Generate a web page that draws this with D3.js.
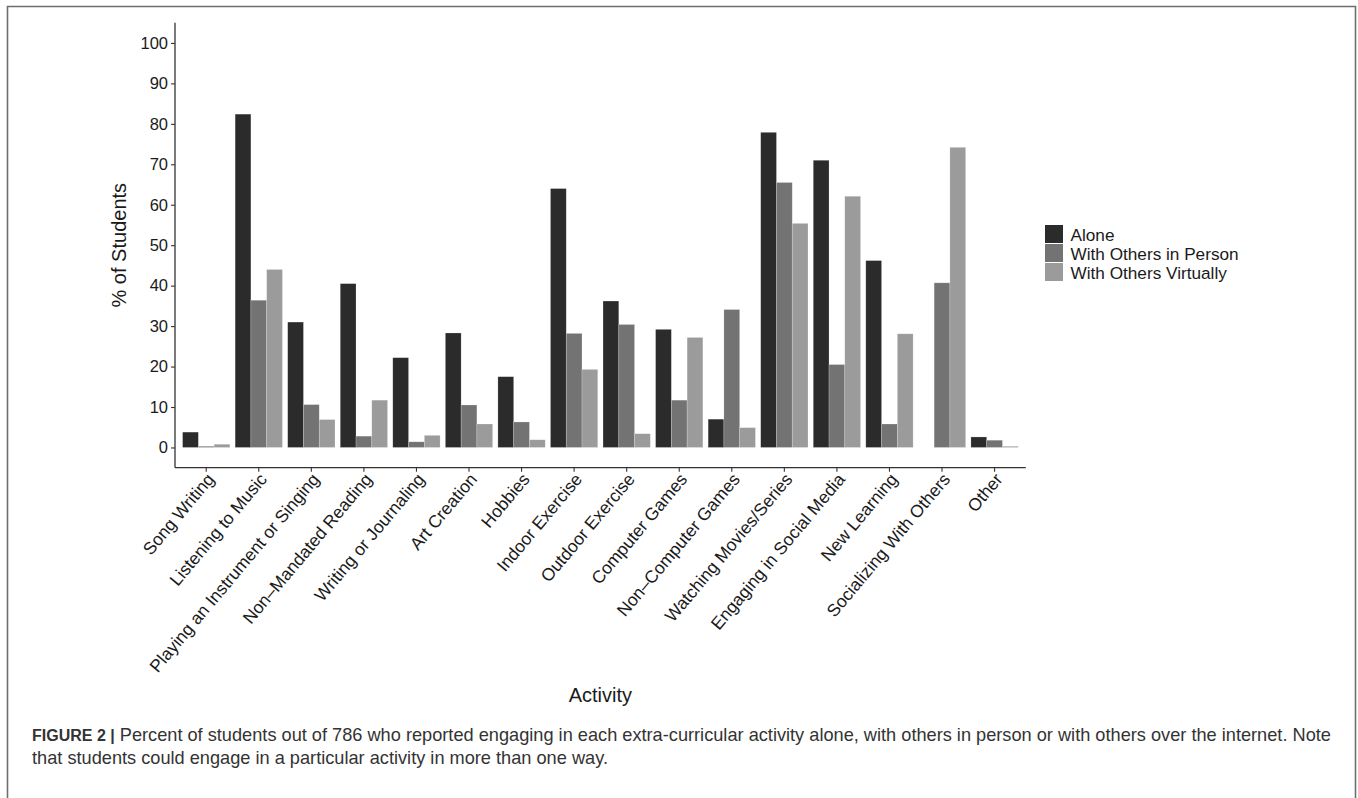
<!DOCTYPE html>
<html>
<head>
<meta charset="utf-8">
<script src="https://cdn.jsdelivr.net/npm/d3@7"></script>
<style>
  body { margin: 0; background: #fff; }
  svg { display: block; font-family: "Liberation Sans", Arial, Helvetica, sans-serif; }
</style>
</head>
<body>
<svg id="chart" width="1358" height="798"></svg>
<script>
// activities on the x axis
const activities = [
  'Song Writing', 'Listening to Music', 'Playing an Instrument or Singing',
  'Non\u2013Mandated Reading', 'Writing or Journaling', 'Art Creation', 'Hobbies',
  'Indoor Exercise', 'Outdoor Exercise', 'Computer Games', 'Non\u2013Computer Games',
  'Watching Movies/Series', 'Engaging in Social Media', 'New Learning',
  'Socializing With Others', 'Other'
];
const seriesNames = ['Alone', 'With Others in Person', 'With Others Virtually'];
const seriesColors = ['#2b2b2b', '#737373', '#9b9b9b'];

// % of students
const alone = [3.8, 82.4, 31.0, 40.5, 22.2, 28.3, 17.5, 64.0, 36.2, 29.2, 7.0, 77.9, 71.0, 46.2, null, 2.6];
const withOthersInPerson = [0.3, 36.4, 10.6, 2.8, 1.4, 10.5, 6.3, 28.2, 30.4, 11.7, 34.1, 65.5, 20.5, 5.8, 40.7, 1.8];
const withOthersVirtually = [0.8, 44.0, 6.9, 11.7, 3.0, 5.8, 1.9, 19.3, 3.4, 27.2, 4.9, 55.4, 62.1, 28.1, 74.2, 0.3];
const yTicks = [0, 10, 20, 30, 40, 50, 60, 70, 80, 90, 100];

const captionBold = 'FIGURE 2 |';
const captionLines = [
  'Percent of students out of 786 who reported engaging in each extra-curricular activity alone, with others in person or with others over the internet. Note',
  'that students could engage in a particular activity in more than one way.'
];

const svg = d3.select('#chart');
const textCol = '#1a1a1a';

// outer figure frame (no bottom edge, like the crop)
svg.append('path')
  .attr('d', 'M7.5,820V6.5H1355.5V820')
  .attr('fill', 'none')
  .attr('stroke', '#6e6e6e')
  .attr('stroke-width', 1.6);

const pLeft = 175, pRight = 1025.8, pTop = 22.7, pBottom = 467.7;

// ggplot-like discrete expansion: 0.6 of a step each side
const step = (pRight - pLeft) / (activities.length + 1.2);
const x = d3.scaleBand()
  .domain(activities)
  .range([pLeft + 0.6 * step - step / 2, pRight - 0.6 * step + step / 2])
  .paddingInner(0.1)
  .paddingOuter(0.05);
const xSub = d3.scaleBand().domain(seriesNames).range([0, x.bandwidth()]);
const y = d3.scaleLinear().domain([-5, 105]).range([pBottom, pTop]);

const rows = activities.map((a, i) => ({
  activity: a,
  values: [alone[i], withOthersInPerson[i], withOthersVirtually[i]]
}));

// bars
const groups = svg.append('g')
  .selectAll('g')
  .data(rows)
  .enter()
  .append('g')
  .attr('transform', d => `translate(${x(d.activity)},0)`);

groups.selectAll('rect')
  .data(d => d.values.map((v, j) => ({ v, j })).filter(e => e.v != null))
  .enter()
  .append('rect')
  .attr('x', e => xSub(seriesNames[e.j]))
  .attr('width', xSub.bandwidth())
  .attr('y', e => y(e.v))
  .attr('height', e => y(0) - y(e.v))
  .attr('fill', e => seriesColors[e.j])
  .style('stroke', '#ffffff')
  .style('stroke-opacity', 0.35)
  .style('stroke-width', 0.6);

// y axis
const yAxis = svg.append('g')
  .attr('transform', `translate(${pLeft},0)`)
  .call(d3.axisLeft(y).tickValues(yTicks).tickSize(4).tickPadding(3).tickSizeOuter(0));
yAxis.select('.domain').attr('d', `M0,${pTop}V${pBottom}`);

// x axis
const xAxis = svg.append('g')
  .attr('transform', `translate(0,${pBottom})`)
  .call(d3.axisBottom(x).tickSize(4).tickSizeOuter(0));
xAxis.select('.domain').attr('d', `M${pLeft},0H${pRight}`);

[yAxis, xAxis].forEach(ax => {
  ax.select('.domain').attr('stroke', '#333').attr('stroke-width', 1.3);
  ax.selectAll('.tick line').attr('stroke', '#333').attr('stroke-width', 1.1);
  ax.selectAll('.tick text')
    .attr('fill', textCol)
    .style('font-family', '"Liberation Sans", Arial, Helvetica, sans-serif');
});
yAxis.selectAll('.tick text').style('font-size', '16.5px');
xAxis.selectAll('.tick text')
  .style('font-size', '17.5px')
  .attr('text-anchor', 'end')
  .attr('dy', null)
  .attr('y', 0)
  .attr('transform', 'translate(9,12) rotate(-50)');

// axis titles
svg.append('text')
  .attr('transform', `translate(126,${(pTop + pBottom) / 2}) rotate(-90)`)
  .attr('text-anchor', 'middle')
  .attr('fill', textCol)
  .style('font-size', '20px')
  .text('% of Students');

svg.append('text')
  .attr('x', (pLeft + pRight) / 2)
  .attr('y', 702)
  .attr('text-anchor', 'middle')
  .attr('fill', textCol)
  .style('font-size', '20px')
  .text('Activity');

// legend
const legend = svg.append('g').attr('transform', 'translate(1045,225)');
const keyH = 19;
seriesNames.forEach((name, i) => {
  legend.append('rect')
    .attr('x', 0)
    .attr('y', i * keyH)
    .attr('width', 18)
    .attr('height', keyH - 1)
    .attr('fill', seriesColors[i]);
  legend.append('text')
    .attr('x', 25.5)
    .attr('y', i * keyH + keyH / 2)
    .attr('dy', '0.35em')
    .attr('fill', textCol)
    .style('font-size', '17.2px')
    .text(name);
});

// caption
const cap = svg.append('g').attr('fill', '#333');
const line1 = cap.append('text')
  .attr('x', 32)
  .attr('y', 741)
  .style('font-size', '18.2px');
line1.append('tspan').style('font-weight', 'bold').style('font-size', '16px').text(captionBold);
line1.append('tspan').text(' ' + captionLines[0]);
cap.append('text')
  .attr('x', 32)
  .attr('y', 764)
  .style('font-size', '18.2px')
  .text(captionLines[1]);
</script>
</body>
</html>
